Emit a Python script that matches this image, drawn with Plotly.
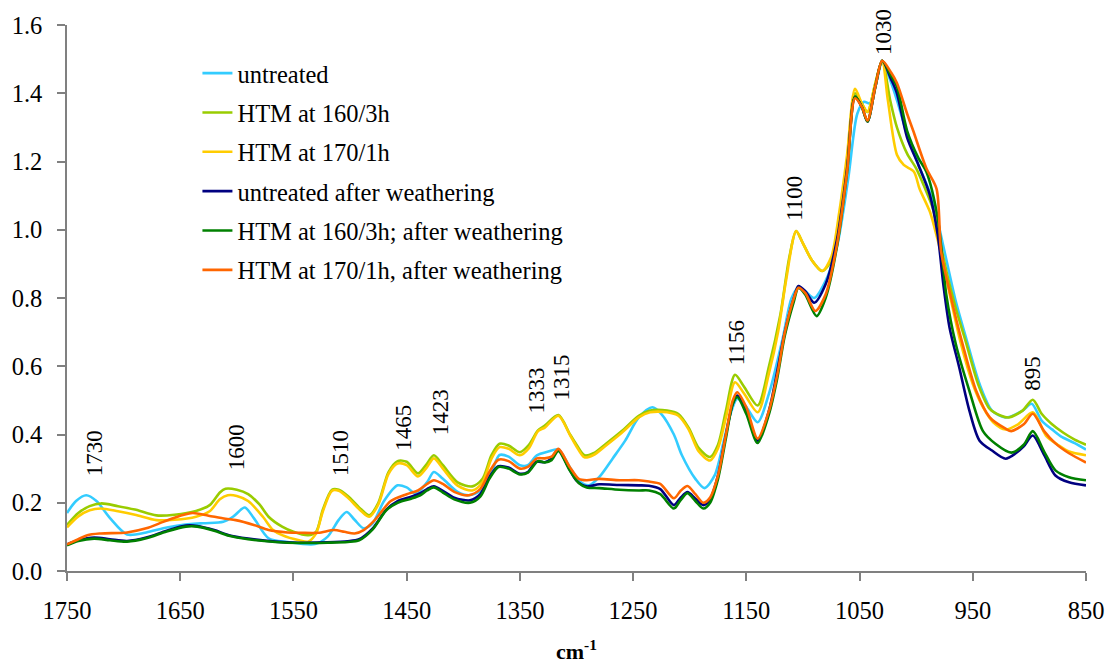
import plotly.graph_objects as go

# ---------------- data (wavenumber cm-1, absorbance) ----------------
WN_UNTREATED = [1750, 1742, 1733, 1724, 1712, 1697, 1680, 1665, 1650, 1630, 1612, 1603, 1593, 1585, 1572, 1555,
                1531, 1520, 1510, 1503, 1496, 1488, 1480, 1470, 1458, 1450, 1442, 1432, 1426, 1418, 1405, 1395,
                1385, 1375, 1368, 1360, 1350, 1343, 1335, 1325, 1316, 1306, 1297, 1289, 1280, 1268, 1257, 1245,
                1233, 1225, 1214, 1207, 1195, 1187, 1178, 1170, 1164, 1158, 1150, 1140, 1130, 1118, 1110, 1104,
                1098, 1090, 1080, 1070, 1060, 1052, 1046, 1041, 1036, 1030, 1022, 1017, 1008, 998, 988, 982, 975,
                965, 956, 944, 933, 921, 906, 898, 889, 880, 871, 860, 850]
ABS_UNTREATED = [0.17, 0.205, 0.222, 0.205, 0.155, 0.107, 0.113, 0.125, 0.134, 0.14, 0.144, 0.16, 0.186, 0.155, 0.096, 0.085,
                 0.079, 0.10, 0.15, 0.173, 0.15, 0.125, 0.14, 0.205, 0.251, 0.245, 0.227, 0.26, 0.29, 0.27, 0.232, 0.222,
                 0.235, 0.29, 0.34, 0.335, 0.31, 0.31, 0.339, 0.35, 0.356, 0.305, 0.262, 0.251, 0.275, 0.33, 0.382, 0.45,
                 0.48, 0.46, 0.40, 0.34, 0.27, 0.243, 0.28, 0.38, 0.46, 0.505, 0.48, 0.436, 0.52, 0.68, 0.80, 0.83,
                 0.82, 0.80, 0.85, 0.95, 1.15, 1.34, 1.375, 1.37, 1.42, 1.49, 1.43, 1.38, 1.28, 1.19, 1.11, 1.04, 0.937,
                 0.79, 0.684, 0.548, 0.47, 0.45, 0.47, 0.49, 0.44, 0.415, 0.392, 0.375, 0.356]

WN_HTM160 = [1750, 1740, 1730, 1720, 1705, 1690, 1671, 1655, 1636, 1624, 1615, 1610, 1600, 1590, 1580, 1572, 1560,
             1550, 1537, 1530, 1524, 1516, 1510, 1502, 1490, 1483, 1475, 1466, 1458, 1450, 1440, 1433, 1426, 1418,
             1405, 1392, 1383, 1375, 1368, 1360, 1350, 1342, 1334, 1328, 1316, 1306, 1300, 1293, 1285, 1275, 1260,
             1245, 1235, 1220, 1210, 1201, 1192, 1182, 1175, 1168, 1160, 1152, 1140, 1130, 1120, 1112, 1106, 1100,
             1092, 1083, 1075, 1068, 1061, 1054, 1048, 1043, 1036, 1030, 1023, 1017, 1008, 1000, 992, 985, 978, 972,
             965, 956, 945, 935, 925, 918, 906, 897, 889, 880, 870, 860, 850]
ABS_HTM160 = [0.135, 0.17, 0.19, 0.198, 0.19, 0.18, 0.163, 0.165, 0.176, 0.193, 0.23, 0.241, 0.238, 0.225, 0.195, 0.159, 0.13,
              0.115, 0.105, 0.115, 0.18, 0.238, 0.238, 0.22, 0.18, 0.163, 0.2, 0.29, 0.322, 0.32, 0.286, 0.31, 0.339, 0.31,
              0.26, 0.248, 0.27, 0.34, 0.373, 0.368, 0.348, 0.37, 0.412, 0.426, 0.457, 0.402, 0.37, 0.339, 0.345, 0.37, 0.41,
              0.455, 0.47, 0.47, 0.46, 0.42, 0.36, 0.334, 0.37, 0.47, 0.575, 0.54, 0.485, 0.60, 0.75, 0.92, 0.996, 0.96,
              0.91, 0.879, 0.91, 1.03, 1.2, 1.40, 1.37, 1.345, 1.43, 1.495, 1.38, 1.30, 1.223, 1.18, 1.12, 1.06, 0.95, 0.86,
              0.77, 0.67, 0.545, 0.475, 0.455, 0.45, 0.47, 0.502, 0.46, 0.43, 0.405, 0.385, 0.37]

WN_HTM170 = [1750, 1740, 1730, 1720, 1705, 1690, 1671, 1655, 1636, 1624, 1615, 1608, 1600, 1590, 1577, 1568, 1560,
             1545, 1537, 1530, 1524, 1516, 1510, 1502, 1490, 1483, 1475, 1466, 1458, 1450, 1440, 1433, 1426, 1418,
             1405, 1392, 1383, 1375, 1368, 1360, 1350, 1342, 1334, 1328, 1316, 1306, 1300, 1293, 1285, 1275, 1260,
             1245, 1235, 1220, 1210, 1201, 1192, 1182, 1175, 1168, 1160, 1152, 1140, 1130, 1122, 1115, 1106, 1100,
             1092, 1083, 1075, 1068, 1061, 1054, 1048, 1043, 1036, 1030, 1025, 1017, 1011, 1002, 997, 988, 983.7, 978,
             969, 960, 950, 941, 932, 921, 910, 897, 885, 875, 865, 850]
ABS_HTM170 = [0.128, 0.16, 0.178, 0.183, 0.175, 0.165, 0.149, 0.15, 0.159, 0.175, 0.21, 0.222, 0.22, 0.205, 0.159, 0.12, 0.105,
              0.09, 0.086, 0.11, 0.175, 0.235, 0.235, 0.215, 0.175, 0.159, 0.195, 0.285, 0.315, 0.31, 0.277, 0.30, 0.33, 0.30,
              0.25, 0.236, 0.26, 0.33, 0.363, 0.358, 0.339, 0.36, 0.41, 0.42, 0.455, 0.40, 0.365, 0.333, 0.34, 0.365, 0.405,
              0.45, 0.465, 0.465, 0.455, 0.415, 0.35, 0.324, 0.36, 0.45, 0.553, 0.52, 0.465, 0.58, 0.70, 0.85, 0.996, 0.96,
              0.91, 0.879, 0.92, 1.05, 1.22, 1.413, 1.37, 1.346, 1.43, 1.495, 1.38, 1.22, 1.19, 1.17, 1.12, 1.054, 1.005, 0.93,
              0.79, 0.66, 0.548, 0.48, 0.436, 0.415, 0.43, 0.465, 0.395, 0.37, 0.35, 0.339]

WN_UNTREATED_W = [1750, 1740, 1726, 1712, 1697, 1680, 1662, 1645, 1635, 1620, 1607, 1590, 1566, 1545, 1520, 1502, 1492,
                  1480, 1468, 1458, 1446, 1438, 1432, 1426, 1418, 1408, 1394, 1385, 1377, 1369, 1360, 1350, 1343, 1336,
                  1328, 1322, 1316, 1308, 1300, 1291, 1280, 1262, 1245, 1236, 1226, 1214, 1208, 1202, 1195, 1188, 1182,
                  1175, 1168, 1162, 1158, 1150, 1140, 1130, 1123, 1116, 1108, 1104, 1098, 1090, 1080, 1070, 1061, 1054,
                  1048, 1043, 1036, 1030, 1022, 1017, 1008, 998, 988, 981, 976, 970.5, 962, 953, 944, 933, 921, 912, 905,
                  897, 887, 877, 865, 850]
ABS_UNTREATED_W = [0.078, 0.09, 0.098, 0.093, 0.088, 0.098, 0.118, 0.133, 0.132, 0.12, 0.105, 0.095, 0.086, 0.083, 0.084, 0.087, 0.093,
                   0.125, 0.18, 0.205, 0.218, 0.228, 0.24, 0.248, 0.235, 0.215, 0.207, 0.225, 0.275, 0.307, 0.303, 0.285, 0.29, 0.32,
                   0.319, 0.33, 0.356, 0.31, 0.265, 0.248, 0.254, 0.252, 0.251, 0.25, 0.24, 0.193, 0.215, 0.231, 0.212, 0.193, 0.21,
                   0.28, 0.40, 0.49, 0.514, 0.47, 0.382, 0.47, 0.58, 0.70, 0.80, 0.835, 0.82, 0.786, 0.84, 0.97, 1.18, 1.39,
                   1.36, 1.317, 1.42, 1.495, 1.44, 1.40, 1.27, 1.19, 1.103, 0.986, 0.84, 0.713, 0.597, 0.47, 0.382, 0.353, 0.329, 0.345, 0.365,
                   0.397, 0.34, 0.28, 0.26, 0.251]

WN_HTM160_W = [1750, 1740, 1726, 1712, 1697, 1680, 1662, 1645, 1635, 1620, 1607, 1590, 1566, 1545, 1520, 1502, 1492,
               1480, 1468, 1458, 1446, 1438, 1432, 1426, 1418, 1408, 1394, 1385, 1377, 1369, 1360, 1350, 1343, 1334,
               1328, 1322, 1316, 1306, 1298, 1291, 1280, 1262, 1245, 1236, 1226, 1214, 1208, 1202, 1195, 1188, 1182,
               1175, 1168, 1162, 1158, 1150, 1140, 1130, 1123, 1116, 1108, 1104, 1098, 1088, 1080, 1070, 1061, 1054,
               1048, 1043, 1036, 1030, 1022, 1017, 1008, 998, 991, 981, 973.4, 965, 953, 941, 930, 916, 905, 897, 887,
               877, 865, 850]
ABS_HTM160_W = [0.075, 0.088, 0.095, 0.09, 0.086, 0.096, 0.116, 0.13, 0.13, 0.118, 0.103, 0.093, 0.085, 0.082, 0.083, 0.085, 0.09,
                0.122, 0.178, 0.20, 0.212, 0.222, 0.236, 0.245, 0.23, 0.21, 0.20, 0.218, 0.27, 0.305, 0.30, 0.283, 0.288, 0.322,
                0.318, 0.325, 0.352, 0.295, 0.258, 0.245, 0.243, 0.238, 0.236, 0.236, 0.225, 0.183, 0.208, 0.228, 0.205, 0.183, 0.20,
                0.27, 0.39, 0.49, 0.51, 0.46, 0.375, 0.46, 0.56, 0.69, 0.79, 0.83, 0.81, 0.747, 0.80, 0.95, 1.17, 1.39,
                1.36, 1.317, 1.42, 1.495, 1.45, 1.42, 1.29, 1.21, 1.17, 1.035, 0.81, 0.665, 0.528, 0.41, 0.373, 0.347, 0.37, 0.41, 0.35,
                0.295, 0.275, 0.266]

WN_HTM170_W = [1750, 1742, 1732, 1720, 1697, 1680, 1665, 1650, 1639, 1625, 1610, 1601, 1585, 1572, 1555, 1543, 1528,
               1514, 1505, 1496, 1488, 1478, 1464, 1450, 1440, 1432, 1426, 1418, 1408, 1395, 1385, 1377, 1369, 1360,
               1350, 1343, 1335, 1328, 1322, 1316, 1306, 1298, 1291, 1280, 1262, 1245, 1236, 1226, 1214, 1208, 1202,
               1195, 1188, 1182, 1175, 1168, 1162, 1158, 1150, 1140, 1130, 1122, 1116, 1108, 1104, 1098, 1089, 1080,
               1070, 1061, 1054, 1048, 1043, 1036, 1030, 1022, 1017, 1008, 1002.6, 991, 982, 978, 970.5, 959, 947, 935,
               921, 916, 905, 897, 887, 877, 865, 850]
ABS_HTM170_W = [0.078, 0.09, 0.105, 0.11, 0.113, 0.125, 0.144, 0.162, 0.17, 0.162, 0.153, 0.149, 0.135, 0.12, 0.113, 0.112, 0.112,
                0.12, 0.115, 0.11, 0.12, 0.15, 0.205, 0.225, 0.236, 0.255, 0.266, 0.255, 0.232, 0.222, 0.24, 0.29, 0.326, 0.322,
                0.30, 0.305, 0.33, 0.33, 0.335, 0.358, 0.305, 0.27, 0.266, 0.27, 0.266, 0.266, 0.262, 0.255, 0.213, 0.235, 0.249,
                0.225, 0.20, 0.215, 0.28, 0.40, 0.50, 0.524, 0.48, 0.388, 0.47, 0.587, 0.70, 0.80, 0.83, 0.815, 0.762, 0.81,
                0.955, 1.17, 1.385, 1.36, 1.32, 1.42, 1.495, 1.46, 1.43, 1.34, 1.29, 1.18, 1.12, 0.937, 0.82, 0.665, 0.528, 0.45,
                0.417, 0.41, 0.43, 0.461, 0.41, 0.374, 0.345, 0.318]

SERIES_NAMES = ["untreated", "HTM at 160/3h", "HTM at 170/1h", "untreated after weathering",
                "HTM at 160/3h; after weathering", "HTM at 170/1h, after weathering"]
SERIES_X = [WN_UNTREATED, WN_HTM160, WN_HTM170, WN_UNTREATED_W, WN_HTM160_W, WN_HTM170_W]
SERIES_Y = [ABS_UNTREATED, ABS_HTM160, ABS_HTM170, ABS_UNTREATED_W, ABS_HTM160_W, ABS_HTM170_W]
SERIES_COLORS = ["#33CCFF", "#99CC00", "#FFCC00", "#000080", "#008000", "#FF6600"]

PEAK_LABELS = ["1730", "1600", "1510", "1465", "1423", "1333", "1315", "1156", "1100", "1030", "895"]
PEAK_X = [1726, 1600, 1509, 1453, 1420, 1335, 1313, 1159, 1107, 1029, 898]
PEAK_Y = [0.272, 0.289, 0.272, 0.347, 0.391, 0.455, 0.493, 0.596, 1.019, 1.507, 0.523]

X_TICKS = [1750, 1650, 1550, 1450, 1350, 1250, 1150, 1050, 950, 850]
Y_TICKS = [0.0, 0.2, 0.4, 0.6, 0.8, 1.0, 1.2, 1.4, 1.6]

FONT = "Liberation Serif"

fig = go.Figure()
for name, xs, ys, col in zip(SERIES_NAMES, SERIES_X, SERIES_Y, SERIES_COLORS):
    fig.add_trace(go.Scatter(
        x=xs, y=ys, mode="lines", name=name, legendgroup=name,
        line=dict(color=col, width=2.6, shape="spline", smoothing=0.8),
    ))

for lab, px, py in zip(PEAK_LABELS, PEAK_X, PEAK_Y):
    fig.add_annotation(x=px, y=py, text=lab, showarrow=False, textangle=-90,
                       xanchor="center", yanchor="bottom",
                       font=dict(family=FONT, size=23, color="black"))

fig.add_annotation(x=0.5, xref="paper", y=-0.145, yref="paper", yanchor="middle",
                   text="<b>cm<sup>-1</sup></b>", showarrow=False,
                   font=dict(family=FONT, size=22, color="black"))

fig.update_layout(
    width=1116, height=666,
    margin=dict(l=63, r=25, t=23, b=95),
    paper_bgcolor="white", plot_bgcolor="white",
    font=dict(family=FONT, size=24.5, color="black"),
    showlegend=True,
    legend=dict(x=0.128, y=0.953, xanchor="left", yanchor="top",
                traceorder="grouped", tracegroupgap=4.5,
                bgcolor="rgba(0,0,0,0)", font=dict(family=FONT, size=24.5, color="black")),
)
fig.update_xaxes(range=[1750, 850], tickvals=X_TICKS, ticktext=[str(v) for v in X_TICKS],
                 showgrid=False, zeroline=False, showline=True, linecolor="#808080", linewidth=1.5,
                 ticks="outside", ticklen=8, tickcolor="#808080", tickwidth=1.5,
                 ticklabelstandoff=9, tickfont=dict(family=FONT, size=24.5, color="black"))
fig.update_yaxes(range=[0, 1.6], tickvals=Y_TICKS, tickformat=".1f",
                 showgrid=False, zeroline=False, showline=True, linecolor="#808080", linewidth=1.5,
                 ticks="outside", ticklen=8, tickcolor="#808080", tickwidth=1.5,
                 ticklabelstandoff=10, tickfont=dict(family=FONT, size=24.5, color="black"))

fig.write_html("out.html")
